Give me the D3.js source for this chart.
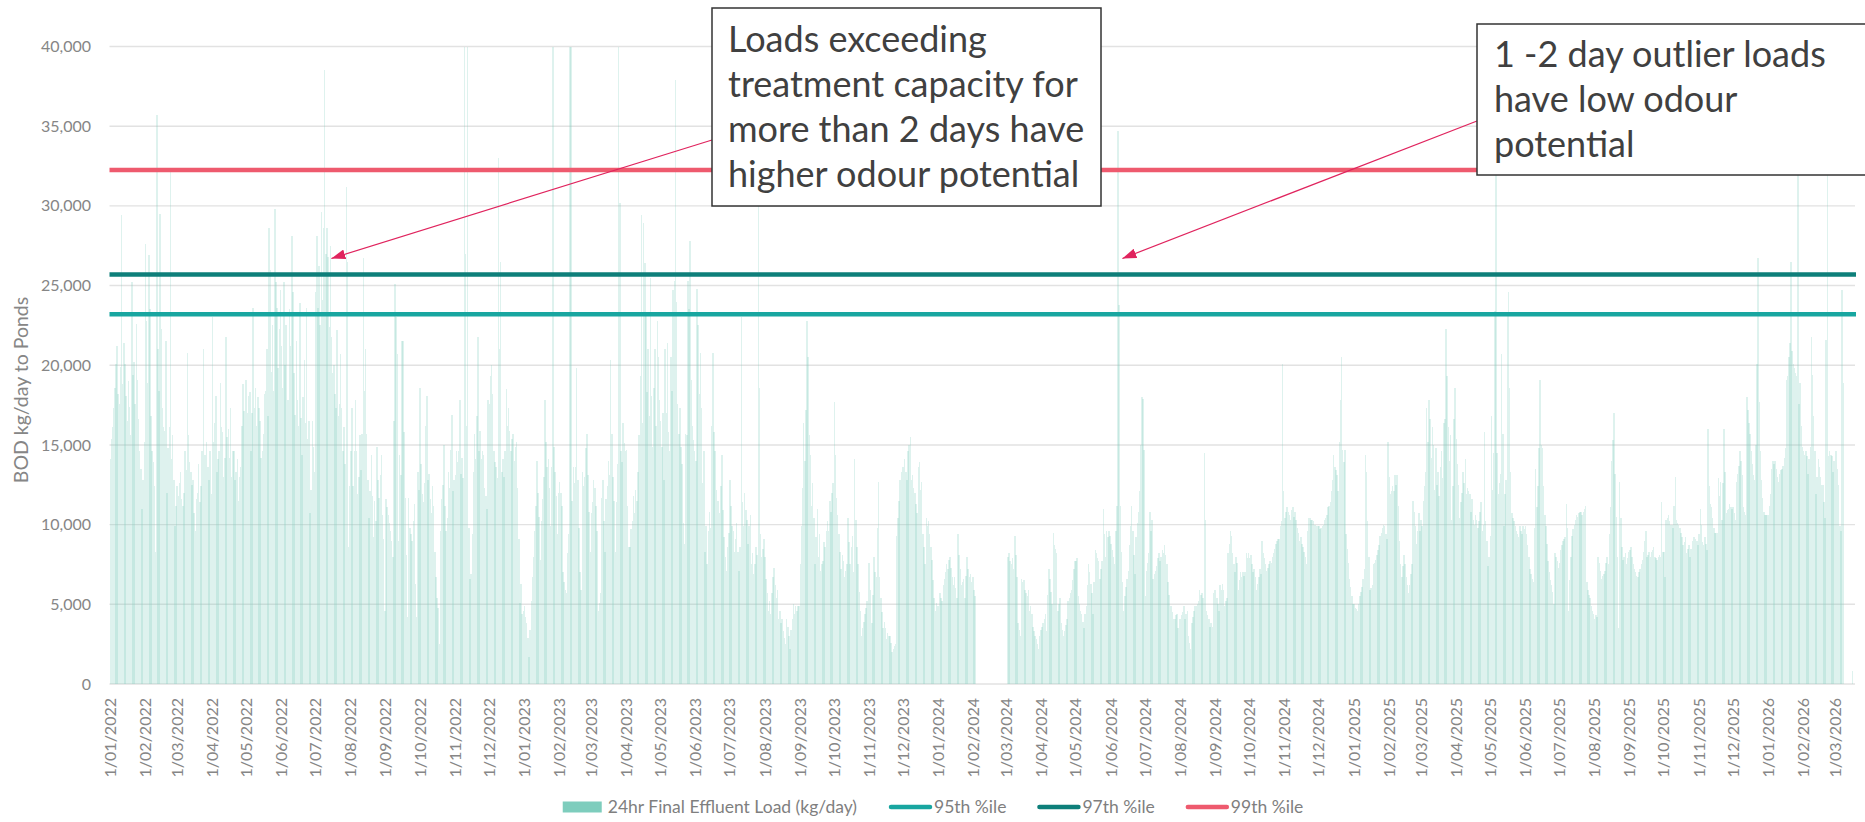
<!DOCTYPE html>
<html>
<head>
<meta charset="utf-8">
<title>BOD load to ponds</title>
<script src="https://d3js.org/d3.v7.min.js"></script>
<style>
  body { margin: 0; background-color: #fff; }
  text { font-family: Lato, 'Open Sans', sans-serif; }
</style>
</head>
<body>
<div id="chart"></div>
<script>
// daily 24hr final effluent BOD load (kg/day)
var startDate = '2022-01-01';

var load2022 = [
  14100,15400,16100,17300,18600,20100,21200,18200,17600,19900,29400,18800,21400,20100,18100,16500,19000,17400,15600,25200,19400,20200,17600,22600,19100,16600,14600,13500,11000,12800,15200,
  27600,22800,18900,26900,23500,16800,14600,13900,12400,8300,35700,21000,18400,29500,22300,17300,16100,15900,21500,12000,14800,16100,32200,14100,15600,12800,9900,11200,
  12400,11800,12600,13300,11600,11200,12000,14600,13400,20800,15600,13900,13300,12500,12800,10700,9600,11600,12000,13800,11400,12400,14600,21000,14400,14400,15200,13600,12800,14600,11900,
  23000,15200,16400,18100,13300,14100,14600,18900,16100,15800,13000,14200,21800,15500,16000,14200,17300,13000,14600,14600,12800,13300,14100,11500,13000,13600,16200,18800,17100,19100,
  19100,17000,18100,18300,14600,17000,23600,17300,18600,16200,18000,17300,16500,14200,14600,15700,18200,18400,21000,16800,28600,26000,19600,22500,18400,29800,25200,23600,19800,22300,24700,
  21200,18600,25200,20000,22500,17800,17800,23500,21200,28100,24600,19500,16900,21500,17800,16200,23900,16700,14400,18000,20300,16400,23600,15400,16500,10700,12200,16500,14900,13300,
  24600,28100,23600,26200,22500,29600,24100,28600,38500,27000,28600,26800,22400,27500,21800,19500,20000,18200,17300,22200,16800,17600,20700,17300,14600,16100,13800,31200,26500,8600,12400,
  14600,17300,12400,14600,17800,14600,11900,13000,15600,13400,15700,26700,18400,21000,15700,12800,10400,12100,14400,11800,9200,11500,10200,14900,12800,11700,13100,14400,10600,9100,4600,
  11600,11100,10600,10100,9600,9000,8000,16500,25100,23000,20700,9000,14400,13100,21500,21500,15800,11700,8100,4200,11700,9800,9400,9000,10200,11300,6300,4200,13300,12200,
  18600,13800,11900,11400,12600,16200,18100,12800,13200,11600,10700,12400,11200,8300,6700,5400,4800,2500,9600,11600,12500,15000,11200,9600,10400,13300,12300,14700,16900,12100,12800,
  13100,14600,13900,14600,17800,13200,14200,12900,42000,27000,16200,42000,9800,6600,6900,9400,13300,15700,14100,16800,21800,14600,15900,14100,14600,14400,12300,11800,11000,17800,
  17600,19300,20000,18200,14600,13900,13600,12900,33000,21000,26500,13300,14100,13000,14600,18500,16200,17300,15900,14600,15400,15700,14000,14900,15200,12300,9100,5100,6300,4400,4600
];

var load2023 = [
  4900,4200,3800,2900,1700,3400,5200,6700,8000,9600,11200,14000,12000,10500,7800,10200,11600,13000,17800,15200,13600,14100,12300,9900,13600,42000,14900,13300,11800,9400,12000,
  12700,12000,11200,7000,6400,5900,5700,8200,9400,42000,42000,11500,13600,12600,13600,19800,12800,9800,7000,5900,13300,12400,13000,14800,15700,13100,10800,8300,
  10700,11400,12800,12300,11200,9600,4600,5100,5700,11700,12800,10200,8300,11600,12400,14000,13100,20300,15700,13000,11500,8300,11400,13800,42000,30200,14600,13900,16400,15100,14600,
  14700,11200,8600,8600,9700,10200,11800,10700,12200,11500,13300,15600,19300,29400,16400,28900,26400,23100,18300,21000,16800,25500,18100,14900,18600,21000,16200,22800,20500,17800,
  16500,14900,17000,12800,21000,17000,21400,15800,14600,20500,18400,24700,25300,37900,24000,17600,15700,17300,14900,13800,10100,8800,15700,15600,25300,23500,27800,19100,16200,15300,14600,
  14000,24800,22500,18200,20800,17300,12600,14600,8300,9900,7500,9600,10800,9800,16200,20800,15800,14600,12200,11500,11500,10700,12400,14400,10900,9200,8000,7100,8600,9500,
  12800,11200,9900,9600,8300,9100,10100,8300,7100,8600,23000,11400,9900,12000,10900,10300,8800,9900,10600,7500,8200,6900,7500,8600,8100,30500,18600,9400,8000,8500,9100,
  8000,6600,5700,4600,5200,4400,5700,6700,7300,6200,5400,5900,4100,4600,3800,4100,3300,2900,2500,4100,3600,3000,2200,3400,4100,5000,4400,4900,4600,4900,4900,
  7500,9900,12300,16400,14000,17200,22800,20500,15600,14400,11200,12600,10400,7500,9200,11000,8000,9400,7100,7500,7700,8900,8600,9600,10200,9600,11500,10800,12000,12600,
  17700,14400,11700,10600,9400,8300,7200,8100,7700,6700,7100,7500,10400,8900,7500,8600,9300,7000,14100,10300,8600,7500,5800,4600,3000,3500,3900,4400,4800,5200,7600,
  7600,5900,3800,5600,8000,7000,6700,9800,12700,6700,5400,4500,3500,3900,3500,2800,3200,3000,3000,2600,2000,2200,2400,2500,9300,10400,11500,12800,13300,13600,
  13600,14100,13300,12800,14600,15000,15500,12800,13100,12300,12000,11300,10700,13600,13900,12200,12700,9400,8600,7500,10400,9900,10200,9400,8600,7800,6500,5400,4600,5100,4900
];

var load2024 = [
  4900,5700,5400,5200,6200,6600,7000,7500,7200,7800,8000,7300,6700,6200,6700,6000,5400,9400,8100,7200,6200,6400,6600,5400,6800,8000,7200,6700,6900,6400,6700,
  5900,5500,null,null,null,null,null,null,null,null,null,null,null,null,null,null,null,null,null,null,null,null,null,null,null,null,null,null,null,
  null,8000,8200,7700,7500,7900,7200,9300,8100,6700,3800,3400,3000,6600,6400,6500,5900,5700,5500,5900,4600,4900,4400,3600,3300,3000,2800,2500,2200,3000,3400,
  3600,3800,4100,4400,3300,5600,7200,6600,5800,5000,9500,8700,8500,8200,4600,5000,5400,3800,3400,3000,3300,3700,4100,5200,5400,5700,5900,6500,7200,7700,
  7700,7900,5500,5000,4600,4400,3900,3500,4400,4900,6200,7500,7000,6300,5700,4400,6400,8400,8200,7900,7700,6600,7200,7700,11000,9400,8000,9600,9200,9600,9300,
  8800,8400,8000,7500,9600,11200,34700,23800,11200,8300,6400,4600,5500,6100,6600,7100,8700,9900,11200,9600,8100,6900,9200,10100,10800,12100,15000,18000,17900,14700,
  5500,7100,7600,8200,10800,9600,10300,6600,6900,7100,7400,7900,8200,7700,8000,8400,8200,8700,8100,7500,6400,5600,4900,4900,4500,4100,4100,4300,4400,3500,4100,
  4100,4300,4500,4900,4100,4400,4600,3000,2600,2200,3800,4200,4600,4900,4900,5000,5200,5900,5600,5700,5400,14500,10300,4600,4300,4100,3600,3800,3600,5700,5900,
  5900,5400,5000,4600,6200,5900,6300,5900,4900,5200,5400,8200,8800,9600,9300,8200,7500,7000,8000,7600,5900,6500,7000,6700,7000,6800,7000,8200,7900,8200,
  7900,8100,7500,7000,7200,6700,5900,6300,6700,7200,6900,9000,8200,7900,7500,7100,7300,7500,7700,7600,8000,8200,8500,8800,9000,9100,9100,9900,10200,20100,12100,
  10400,10800,11100,10800,10600,10300,10900,11100,10500,10800,10300,9800,9500,9000,9200,8800,8600,8300,8000,7500,9600,10400,10400,10300,10300,10200,10000,10000,9900,9900,
  9900,9700,9800,9900,10000,10300,10400,10600,11100,11200,11400,12100,12800,14400,13600,13400,13100,12100,15200,17800,20500,14700,13900,14700,9400,8500,7600,6600,6100,5500,5000
];

var load2025 = [
  5000,4800,4700,4600,5000,5500,5800,6100,6600,7200,14400,13300,10200,8000,5900,6000,6200,7500,7600,7800,8100,8400,8700,9300,9500,9800,10000,9900,9400,9100,15200,
  13000,11900,12100,12400,12100,13100,12500,13100,11200,9000,7500,6700,7400,8100,7500,6700,6200,5700,6200,6900,7500,11500,10800,9900,8800,9600,10700,9600,
  10300,9900,11500,12400,13300,17300,15200,17800,16600,14200,16100,15000,12200,14800,12500,13300,11800,13600,14600,12900,16400,16600,22300,19300,16100,14000,15600,10300,12400,16600,18600,
  15400,13800,12500,10400,11400,12000,13300,12600,14100,11900,12300,12100,11900,10800,11600,10300,10000,10600,10300,9800,10200,10800,11400,9600,10000,15800,10200,9000,7400,8000,
  9300,16800,12200,14500,23400,32500,14500,11900,12600,13200,20700,15700,9900,11900,12800,23100,24600,18600,13300,10700,10400,10200,9900,9600,9400,9200,9900,9600,9400,9900,9700,
  9900,9400,8700,8000,7200,6900,6600,6400,9800,13500,11100,12400,14800,19100,15000,14800,12400,10600,9900,8800,7700,7000,6500,6200,5800,5000,8200,8000,7700,7300,
  7600,8400,8700,9000,9100,9200,11300,9800,4600,6500,8000,9300,9700,10000,10300,10600,10500,10700,10800,10800,10600,10800,11000,11200,6400,5900,5600,5400,4900,4600,4400,
  4100,4300,4200,8000,7600,7100,6600,6800,6900,7100,7600,8000,7500,9400,11100,14000,15300,17000,13200,10500,8000,3500,12700,10400,8600,7800,8000,8200,7500,7900,8300,
  8400,8600,8000,7500,7200,7000,6800,6700,7000,7200,7500,7800,8300,9000,9600,8000,8100,8300,8000,8300,8400,8600,8000,7900,7800,8000,8100,8000,11400,8300,
  8300,6700,10300,10400,10600,10200,10000,10000,9800,11200,13000,10300,10100,10000,9800,9500,9200,8700,8900,9200,8200,8500,8700,8000,8500,9000,9200,9200,9100,9000,8700,
  9400,11000,10000,8900,8700,9200,8800,8400,16000,12400,11300,11100,10400,9800,9500,9500,9500,12900,11800,12700,10300,12600,16000,13300,10700,10900,11000,11300,11100,11000,
  11100,10700,10300,12700,13200,13700,14600,14000,13100,11100,10800,10600,18000,17200,16400,15700,14600,13800,13100,12800,15000,20100,26700,17700,14600,12800,11700,10800,10600,10600,10600
];

var load2026 = [
  10600,11200,11900,13500,14000,13800,14000,13500,13000,12700,13200,13400,13500,13700,14200,14800,19100,19300,20500,21400,26500,20900,20100,19800,19500,19300,34000,17600,18900,16200,14900,
  14600,14400,14600,14300,13200,14100,14900,21800,19400,16800,14600,11900,13000,14100,13600,13000,12500,12500,11400,10400,21600,34000,14300,14600,14400,14300,13300,14000,
  14600,14600,13500,12500,9900,9600,24700,18900,null,null,null,null,null,null,null,800,null,null
];

// percentile lines (kg/day)
var p95 = 23200;
var p97 = 25700;
var p99 = 32250;

var yTicks = [0, 5000, 10000, 15000, 20000, 25000, 30000, 35000, 40000];
var yTitle = 'BOD kg/day to Ponds';
var barName = '24hr Final Effluent Load (kg/day)';
var lineNames = ['95th %ile', '97th %ile', '99th %ile'];
var lineColors = ['#18a6a0', '#0e7f7a', '#ee5a6e'];

var note1 = ['Loads exceeding', 'treatment capacity for', 'more than 2 days have', 'higher odour potential'];
var note2 = ['1 -2 day outlier loads', 'have low odour', 'potential'];
var note1Target = ['2022-07-15', 26700];
var note2Target = ['2024-06-11', 26700];

var width = 1865;
var height = 822;

var svg = d3.select('#chart')
  .append('svg')
  .attr('width', width)
  .attr('height', height)
  .style('background-color', '#fff');

var parseDay = d3.timeParse('%Y-%m-%d');
var formatDay = d3.timeFormat('%-d/%m/%Y');
var day0 = parseDay(startDate);

var loads = [].concat(load2022, load2023, load2024, load2025, load2026);
var data = loads.map(function(v, i) {
  return { date: d3.timeDay.offset(day0, i), value: v };
});

var x = d3.scaleBand()
  .domain(data.map(function(d) { return d.date; }))
  .range([109.5, 1855])
  .padding(0);

var y = d3.scaleLinear()
  .domain([0, 40000])
  .range([684, 46.5])
  .clamp(true);

// gridlines
svg.append('g').selectAll('line')
  .data(yTicks)
  .join('line')
  .attr('x1', 109.5)
  .attr('x2', 1855)
  .attr('y1', function(d) { return y(d); })
  .attr('y2', function(d) { return y(d); })
  .style('stroke', '#e2e2e2')
  .style('stroke-width', 1.4);

// y tick labels
svg.append('g').selectAll('text')
  .data(yTicks)
  .join('text')
  .attr('x', 91)
  .attr('y', function(d) { return y(d); })
  .attr('dy', '0.35em')
  .attr('text-anchor', 'end')
  .text(d3.format(','))
  .style('fill', '#868686')
  .style('font-size', '16px');

svg.append('text')
  .attr('transform', 'translate(21,390) rotate(-90)')
  .attr('dy', '0.35em')
  .attr('text-anchor', 'middle')
  .text(yTitle)
  .style('fill', '#868686')
  .style('font-size', '19.5px');

// daily bars
svg.append('g').selectAll('rect')
  .data(data.filter(function(d) { return d.value != null; }))
  .join('rect')
  .attr('x', function(d) { return x(d.date); })
  .attr('width', x.bandwidth() * 1.3)
  .attr('y', function(d) { return y(d.value); })
  .attr('height', function(d) { return y(0) - y(d.value); })
  .attr('shape-rendering', 'crispEdges')
  .style('fill', '#7ecdbd')
  .style('fill-opacity', 0.26);

// x labels, one per month
var months = d3.timeMonth.range(day0, d3.timeDay.offset(day0, loads.length));
svg.append('g').selectAll('text')
  .data(months)
  .join('text')
  .attr('transform', function(d) {
    return 'translate(' + (x(d) + x.bandwidth() / 2) + ',698) rotate(-90)';
  })
  .attr('dy', '0.35em')
  .attr('text-anchor', 'end')
  .text(formatDay)
  .style('fill', '#868686')
  .style('font-size', '16px');

// percentile lines
[p95, p97, p99].forEach(function(p, i) {
  svg.append('line')
    .attr('x1', 109.5)
    .attr('x2', 1856)
    .attr('y1', y(p))
    .attr('y2', y(p))
    .style('stroke', lineColors[i])
    .style('stroke-width', 4.5);
});

// annotations
svg.append('defs').append('marker')
  .attr('id', 'head')
  .attr('viewBox', '0 0 14 10')
  .attr('refX', 14)
  .attr('refY', 5)
  .attr('markerWidth', 14)
  .attr('markerHeight', 10)
  .attr('markerUnits', 'userSpaceOnUse')
  .attr('orient', 'auto')
  .append('path')
  .attr('d', 'M0,0L14,5L0,10Z')
  .style('fill', '#e0245e');

function note(lines, box, target, from) {
  var tx = x(parseDay(target[0])) + x.bandwidth() / 2;
  var ty = y(target[1]);
  svg.append('line')
    .attr('x1', from[0]).attr('y1', from[1])
    .attr('x2', tx).attr('y2', ty)
    .attr('marker-end', 'url(#head)')
    .style('stroke', '#e0245e')
    .style('stroke-width', 1.2);

  svg.append('rect')
    .attr('x', box[0]).attr('y', box[1])
    .attr('width', box[2]).attr('height', box[3])
    .style('fill', '#fff')
    .style('stroke', '#333')
    .style('stroke-width', 1.5);

  var t = svg.append('text')
    .style('fill', '#404040')
    .style('font-size', '36px');
  lines.forEach(function(s, i) {
    t.append('tspan')
      .attr('x', box[4])
      .attr('y', box[5] + i * 45)
      .text(s);
  });
}

note(note1, [712, 8, 389, 198, 728, 52], note1Target, [712, 140]);
note(note2, [1477, 24, 400, 151, 1494, 67], note2Target, [1477, 121]);

// legend
var legend = svg.append('g');
var cx = 0;
legend.append('rect')
  .attr('x', cx).attr('y', -5.5)
  .attr('width', 39).attr('height', 11)
  .style('fill', '#7ecdbd');
cx += 45;
var lt = legend.append('text')
  .attr('x', cx).attr('dy', '0.35em')
  .text(barName)
  .style('fill', '#7f7f7f')
  .style('font-size', '17.5px');
cx += lt.node().getComputedTextLength() + 32;

lineNames.forEach(function(name, i) {
  legend.append('line')
    .attr('x1', cx + 2).attr('x2', cx + 41)
    .style('stroke', lineColors[i])
    .style('stroke-width', 4.5)
    .style('stroke-linecap', 'round');
  cx += 45;
  var tt = legend.append('text')
    .attr('x', cx).attr('dy', '0.35em')
    .text(name)
    .style('fill', '#7f7f7f')
    .style('font-size', '17.5px');
  cx += tt.node().getComputedTextLength() + 31;
});
cx -= 31;
legend.attr('transform', 'translate(' + (933 - cx / 2) + ',807)');
</script>
</body>
</html>
